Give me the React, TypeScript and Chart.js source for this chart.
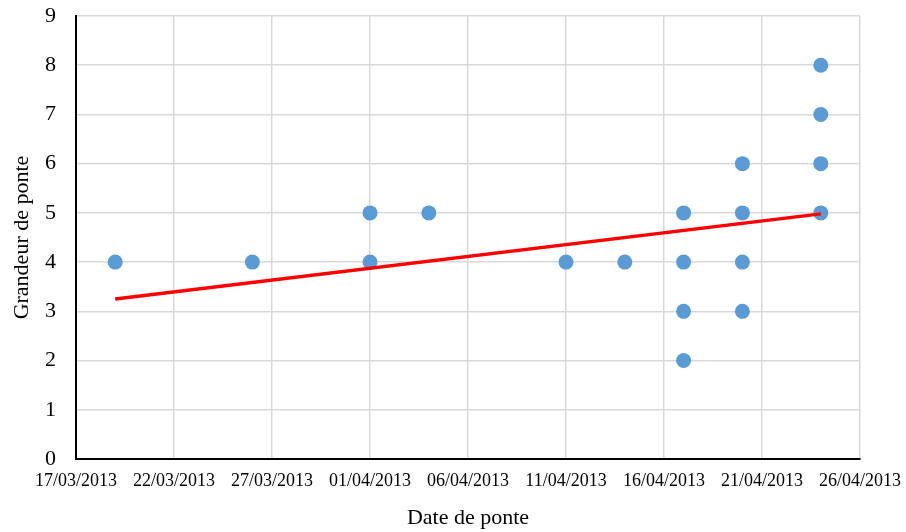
import React, { useEffect, useRef } from "react";
import { Chart, registerables } from "chart.js";

Chart.register(...registerables);

// Observations: laying date and clutch size
const layDates = [
  "2013-03-19", "2013-03-26",
  "2013-04-01", "2013-04-01",
  "2013-04-04",
  "2013-04-11", "2013-04-14",
  "2013-04-17", "2013-04-17", "2013-04-17", "2013-04-17",
  "2013-04-20", "2013-04-20", "2013-04-20", "2013-04-20",
  "2013-04-24", "2013-04-24", "2013-04-24", "2013-04-24",
];
const clutchSizes = [
  4, 4,
  5, 4,
  5,
  4, 4,
  5, 4, 3, 2,
  6, 5, 4, 3,
  8, 7, 6, 5,
];

// Linear trend line
const trendDates = ["2013-03-19", "2013-04-24"];
const trendValues = [3.25, 4.98];

// Axis setup
const axisStartDate = "2013-03-17";
const axisEndDate = "2013-04-26";
const xStepDays = 5;
const yMin = 0;
const yMax = 9;

const DAY = 86400000;
const toDay = (s: string) => {
  const [y, m, d] = s.split("-").map(Number);
  return Math.round((Date.UTC(y, m - 1, d) - Date.UTC(2013, 2, 17)) / DAY);
};
const fmt = (day: number) => {
  const base = Date.UTC(2013, 2, 17) + day * DAY;
  const dt = new Date(base);
  const dd = String(dt.getUTCDate()).padStart(2, "0");
  const mm = String(dt.getUTCMonth() + 1).padStart(2, "0");
  return `${dd}/${mm}/${dt.getUTCFullYear()}`;
};

const zeroPad = (s: any) => {
  s.paddingTop = 0;
  s.paddingBottom = 0;
  s.paddingLeft = 0;
  s.paddingRight = 0;
};

export default function App() {
  const ref = useRef<HTMLCanvasElement>(null);
  useEffect(() => {
    document.body.style.margin = "0";
    const serif = "'Liberation Serif', 'Times New Roman', serif";
    const chart = new Chart(ref.current!, {
      type: "scatter",
      data: {
        datasets: [
          {
            type: "line",
            label: "Tendance",
            data: trendDates.map((d, i) => ({ x: toDay(d), y: trendValues[i] })),
            borderColor: "#ff0000",
            borderWidth: 3.5,
            pointRadius: 0,
            fill: false,
            order: 0,
          },
          {
            label: "Grandeur de ponte",
            data: layDates.map((d, i) => ({ x: toDay(d), y: clutchSizes[i] })),
            backgroundColor: "#5b9bd5",
            borderColor: "#5b9bd5",
            pointRadius: 7.5,
            pointHoverRadius: 7.5,
            borderWidth: 0,
            order: 1,
          },
        ],
      },
      options: {
        responsive: false,
        animation: false,
        layout: { padding: { top: 16, right: 46, left: 0, bottom: 0 } },
        plugins: { legend: { display: false }, tooltip: { enabled: false } },
        scales: {
          x: {
            type: "linear",
            min: toDay(axisStartDate),
            max: toDay(axisEndDate),
            afterFit: (s: any) => { s.height = 73; zeroPad(s); },
            ticks: {
              stepSize: xStepDays,
              callback: (v: any) => fmt(Number(v)),
              font: { family: serif, size: 18 },
              color: "#000",
              padding: 11,
              maxRotation: 0,
              autoSkip: false,
            },
            grid: { color: "#d9d9d9", lineWidth: 1.5, drawTicks: false },
            border: { color: "#000", width: 2 },
            title: {
              display: true,
              text: "Date de ponte",
              font: { family: serif, size: 22 },
              color: "#000",
              padding: { top: 0, bottom: 1 },
            },
          },
          y: {
            min: yMin,
            max: yMax,
            afterFit: (s: any) => { s.width = 76; zeroPad(s); },
            ticks: {
              stepSize: 1,
              font: { family: serif, size: 22 },
              color: "#000",
              padding: 20,
            },
            grid: { color: "#d9d9d9", lineWidth: 1.5, drawTicks: false },
            border: { color: "#000", width: 2 },
            title: {
              display: true,
              text: "Grandeur de ponte",
              font: { family: serif, size: 22 },
              color: "#000",
              padding: { top: 9, bottom: 0 },
            },
          },
        },
      },
    });
    return () => chart.destroy();
  }, []);
  return <canvas ref={ref} width={906} height={532} style={{ display: "block" }} />;
}
